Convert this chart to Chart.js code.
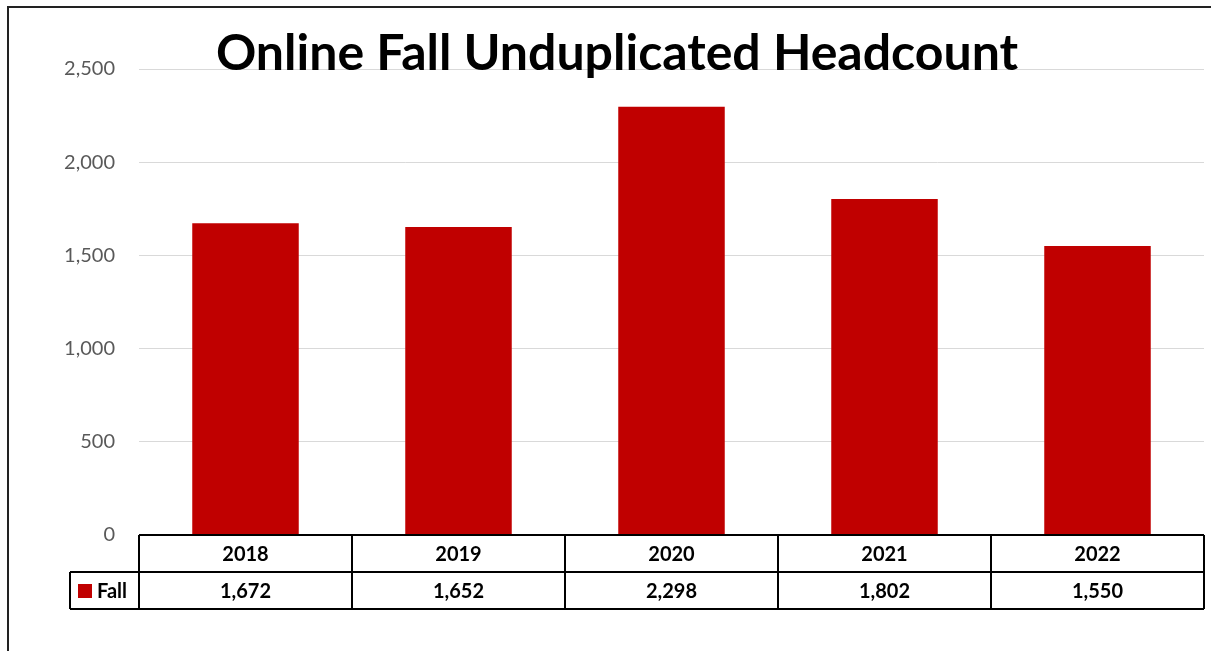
<!DOCTYPE html>
<html>
<head>
<meta charset="utf-8">
<script src="https://cdn.jsdelivr.net/npm/chart.js@4.4.1/dist/chart.umd.min.js"></script>
<style>
  html, body { margin: 0; padding: 0; background: #fff; }
  #wrap { width: 1211px; height: 651px; position: relative; }
</style>
</head>
<body>
<div id="wrap"><canvas id="grafico"></canvas></div>
<script>
const titulo = 'Online Fall Unduplicated Headcount';
const anios = ['2018', '2019', '2020', '2021', '2022'];
const serieNombre = 'Fall';
const valoresFall = [1672, 1652, 2298, 1802, 1550];
const marcasY = [0, 500, 1000, 1500, 2000, 2500];

const ROJO = '#C00000';
const fmt = (v) => v.toLocaleString('en-US');

// Marco, titulo y tabla de datos bajo el eje
const tablaPlugin = {
    id: 'tablaDatos',
    afterDraw(chart) {
        const ctx = chart.ctx;
        const x = chart.scales.x;
        const area = chart.chartArea;
        const paso = (area.right - area.left) / anios.length;
        const fila1 = area.bottom;
        const alto = 37;
        const fila2 = fila1 + alto;
        const fin = fila2 + alto;

        ctx.save();
        // marco exterior
        ctx.strokeStyle = '#222';
        ctx.lineWidth = 2;
        ctx.beginPath();
        ctx.moveTo(8, 651);
        ctx.lineTo(8, 7);
        ctx.lineTo(1211, 7);
        ctx.stroke();

        // titulo
        ctx.fillStyle = '#000';
        ctx.font = 'bold 50px Lato';
        ctx.textAlign = 'center';
        ctx.textBaseline = 'alphabetic';
        ctx.fillText(titulo, 617, 70);

        // tabla
        ctx.lineWidth = 2;
        ctx.strokeStyle = '#000';
        ctx.beginPath();
        ctx.moveTo(area.left, fila1);
        ctx.lineTo(area.right, fila1);
        ctx.moveTo(70, fila2);
        ctx.lineTo(area.right, fila2);
        ctx.moveTo(70, fin);
        ctx.lineTo(area.right, fin);
        ctx.moveTo(70, fila2);
        ctx.lineTo(70, fin);
        for (let i = 0; i <= anios.length; i++) {
            const px = Math.round(area.left + paso * i);
            ctx.moveTo(px, fila1);
            ctx.lineTo(px, fin);
        }
        ctx.stroke();

        ctx.font = 'bold 20px Lato';
        ctx.textBaseline = 'middle';
        ctx.textAlign = 'center';
        anios.forEach((a, i) => {
            const cx = x.getPixelForValue(i);
            ctx.fillText(a, cx, fila1 + alto / 2 + 1);
            ctx.fillText(fmt(valoresFall[i]), cx, fila2 + alto / 2 + 1);
        });

        // leyenda en la tabla
        ctx.fillStyle = ROJO;
        ctx.fillRect(78, fila2 + 12, 14, 14);
        ctx.fillStyle = '#000';
        ctx.textAlign = 'left';
        ctx.fillText(serieNombre, 97, fila2 + alto / 2 + 1);
        ctx.restore();
    }
};

new Chart(document.getElementById('grafico'), {
    type: 'bar',
    data: {
        labels: anios,
        datasets: [{
            label: serieNombre,
            data: valoresFall,
            backgroundColor: ROJO,
            borderWidth: 0,
            barPercentage: 0.5,
            categoryPercentage: 1.0,
        }],
    },
    options: {
        responsive: true,
        maintainAspectRatio: false,
        animation: false,
        layout: { padding: { top: 69, right: 7, left: 0, bottom: 0 } },
        plugins: {
            legend: { display: false },
            tooltip: { enabled: false },
        },
        scales: {
            x: {
                grid: { display: false },
                border: { display: false },
                ticks: { display: false },
                afterFit: (s) => { s.height = 651 - 535; },
            },
            y: {
                min: 0,
                max: 2500,
                afterBuildTicks: (s) => { s.ticks = marcasY.map((v) => ({ value: v })); },
                grid: { color: '#d9d9d9', lineWidth: 1, drawTicks: false },
                border: { display: false },
                ticks: {
                    color: '#595959',
                    font: { family: 'Lato', size: 20 },
                    padding: 24,
                    callback: (v) => fmt(v),
                },
                afterFit: (s) => { s.width = 139; },
            },
        },
    },
    plugins: [tablaPlugin],
});
</script>
</body>
</html>
